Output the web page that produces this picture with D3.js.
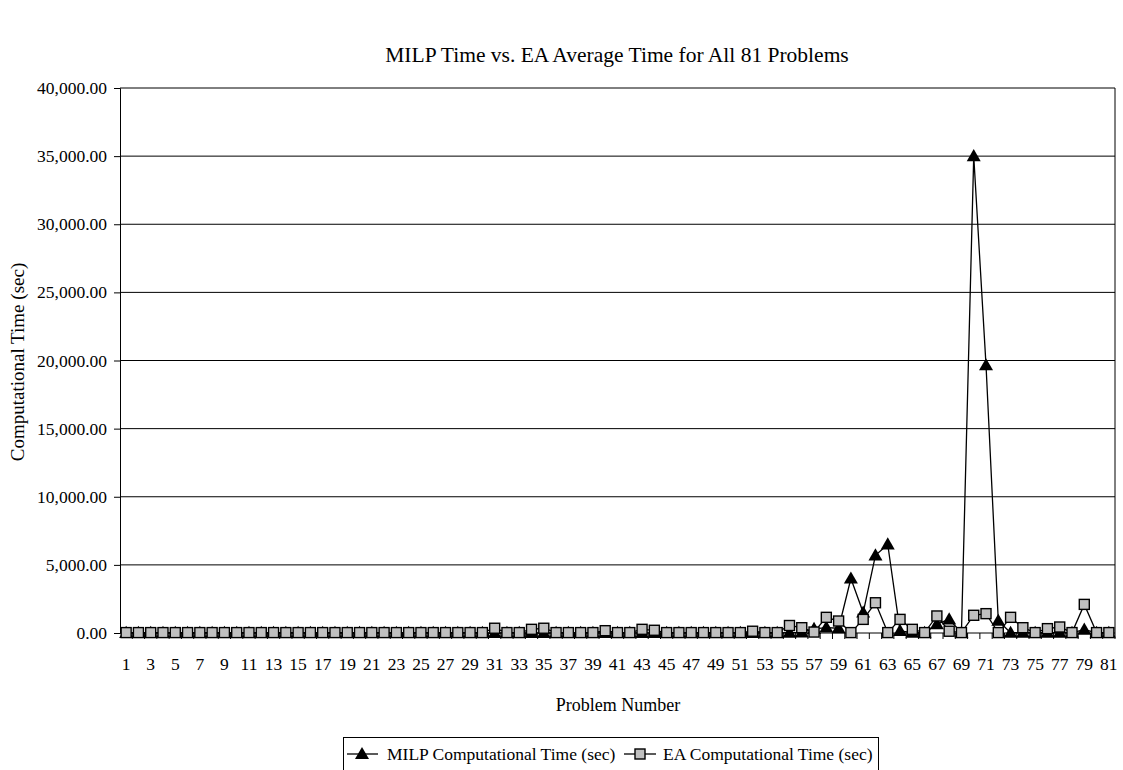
<!DOCTYPE html>
<html lang="en">
<head>
  <meta charset="UTF-8">
  <title>MILP Time vs. EA Average Time</title>
  <script src="https://d3js.org/d3.v7.min.js"></script>
  <style>
    body {
      margin: 0;
      padding: 0;
      background: #fff;
    }

    svg text {
      font-family: 'Liberation Serif', 'Times New Roman', serif;
      fill: #000;
    }
  </style>
</head>
<body>
  <div id="chart"></div>

  <script>
    // Problem numbers 1..81
    const problems = d3.range(1, 82);

    // MILP computational time (sec)
    const milpTime = [
      5, 5, 5, 5, 5, 5, 5, 5, 5, 5,
      5, 5, 5, 5, 5, 5, 5, 5, 5, 5,
      5, 5, 5, 5, 5, 5, 5, 5, 5, 5,
      10, 5, 5, 10, 10, 5, 5, 5, 5, 10,
      5, 5, 10, 10, 5, 5, 5, 5, 5, 5,
      5, 10, 5, 5, 30, 40, 300, 400, 350, 4000,
      1500, 5700, 6500, 150, 20, 20, 650, 1000, 20, 35000,
      19650, 900, 20, 20, 20, 20, 20, 20, 250, 20,
      20
    ];

    // EA computational time (sec)
    const eaTime = [
      30, 30, 30, 30, 30, 30, 30, 30, 30, 30,
      30, 30, 30, 30, 30, 30, 30, 30, 30, 30,
      30, 30, 30, 30, 30, 30, 30, 30, 30, 30,
      350, 30, 30, 270, 350, 30, 30, 30, 30, 170,
      30, 30, 270, 200, 30, 30, 30, 30, 30, 30,
      30, 130, 30, 30, 550, 390, 70, 1150, 880, 30,
      1000, 2220, 30, 1000, 270, 30, 1250, 130, 30, 1300,
      1420, 30, 1150, 390, 30, 320, 440, 30, 2100, 30,
      30
    ];

    const yTicks = [0, 5000, 10000, 15000, 20000, 25000, 30000, 35000, 40000];
    const xLabels = problems.filter(d => d % 2 === 1);

    const width = 1123;
    const height = 770;
    const margin = { top: 88, right: 8, bottom: 137, left: 120 };

    const svg = d3.select('#chart')
      .append('svg')
      .attr('width', width)
      .attr('height', height);

    const x = d3.scaleBand()
      .domain(problems)
      .range([margin.left, width - margin.right]);

    const y = d3.scaleLinear()
      .domain([0, 40000])
      .range([height - margin.bottom, margin.top]);

    // gridlines
    svg.append('g')
      .selectAll('line')
      .data(yTicks.filter(d => d > 0))
      .join('line')
      .attr('x1', margin.left)
      .attr('x2', width - margin.right)
      .attr('y1', d => y(d))
      .attr('y2', d => y(d))
      .attr('stroke', '#000')
      .attr('stroke-width', 1);

    // right border
    svg.append('line')
      .attr('x1', width - margin.right)
      .attr('x2', width - margin.right)
      .attr('y1', margin.top)
      .attr('y2', y(0))
      .attr('stroke', '#000');

    // y axis
    const yAxis = svg.append('g')
      .attr('transform', `translate(${margin.left},0)`)
      .call(d3.axisLeft(y).tickValues(yTicks).tickFormat(d3.format(',.2f')).tickSize(6).tickPadding(7));
    yAxis.select('.domain').attr('stroke', '#000');
    yAxis.selectAll('text')
      .attr('font-size', 17.5)
      .style('font-family', "'Liberation Serif', serif");

    // x axis: ticks between categories, labels on odd problems
    const xAxisY = y(0);
    svg.append('line')
      .attr('x1', margin.left)
      .attr('x2', width - margin.right)
      .attr('y1', xAxisY)
      .attr('y2', xAxisY)
      .attr('stroke', '#000');

    svg.append('g')
      .selectAll('line')
      .data(problems)
      .join('line')
      .attr('x1', d => x(d) + x.bandwidth())
      .attr('x2', d => x(d) + x.bandwidth())
      .attr('y1', xAxisY)
      .attr('y2', xAxisY + 6)
      .attr('stroke', '#000');

    svg.append('g')
      .selectAll('text')
      .data(xLabels)
      .join('text')
      .attr('x', d => x(d) + x.bandwidth() / 2)
      .attr('y', xAxisY + 37)
      .attr('text-anchor', 'middle')
      .attr('font-size', 17.5)
      .text(d => d);

    // series lines
    const line = d3.line()
      .x((d, i) => x(problems[i]) + x.bandwidth() / 2)
      .y(d => y(d));

    svg.append('path')
      .datum(milpTime)
      .attr('fill', 'none')
      .attr('stroke', '#000')
      .attr('stroke-width', 1.3)
      .attr('d', line);

    svg.append('g')
      .selectAll('path')
      .data(milpTime)
      .join('path')
      .attr('d', d3.symbol().type(d3.symbolTriangle).size(85))
      .attr('transform', (d, i) => `translate(${x(problems[i]) + x.bandwidth() / 2},${y(d) + 1})`)
      .attr('fill', '#000');

    svg.append('path')
      .datum(eaTime)
      .attr('fill', 'none')
      .attr('stroke', '#000')
      .attr('stroke-width', 1.3)
      .attr('d', line);

    svg.append('g')
      .selectAll('rect')
      .data(eaTime)
      .join('rect')
      .attr('x', (d, i) => x(problems[i]) + x.bandwidth() / 2 - 5)
      .attr('y', d => y(d) - 5)
      .attr('width', 10)
      .attr('height', 10)
      .attr('fill', '#c0c0c0')
      .attr('stroke', '#000')
      .attr('stroke-width', 1.4);

    // titles
    svg.append('text')
      .attr('x', 617)
      .attr('y', 62)
      .attr('text-anchor', 'middle')
      .attr('font-size', 21.5)
      .text('MILP Time vs. EA Average Time for All 81 Problems');

    svg.append('text')
      .attr('x', 618)
      .attr('y', 711)
      .attr('text-anchor', 'middle')
      .attr('font-size', 18)
      .text('Problem Number');

    svg.append('text')
      .attr('transform', 'translate(24,362) rotate(-90)')
      .attr('text-anchor', 'middle')
      .attr('font-size', 19)
      .text('Computational Time (sec)');

    // legend
    const legend = svg.append('g');
    legend.append('rect')
      .attr('x', 343.5)
      .attr('y', 737.5)
      .attr('width', 535)
      .attr('height', 60)
      .attr('fill', '#fff')
      .attr('stroke', '#000');

    const ly = 754;
    legend.append('line')
      .attr('x1', 347).attr('x2', 378).attr('y1', ly).attr('y2', ly)
      .attr('stroke', '#000').attr('stroke-width', 1.3);
    legend.append('path')
      .attr('d', d3.symbol().type(d3.symbolTriangle).size(85))
      .attr('transform', `translate(362,${ly + 1})`)
      .attr('fill', '#000');
    legend.append('text')
      .attr('x', 387)
      .attr('y', ly + 6)
      .attr('font-size', 17.5)
      .text('MILP Computational Time (sec)');

    legend.append('line')
      .attr('x1', 624).attr('x2', 656).attr('y1', ly).attr('y2', ly)
      .attr('stroke', '#000').attr('stroke-width', 1.3);
    legend.append('rect')
      .attr('x', 635).attr('y', ly - 5).attr('width', 10).attr('height', 10)
      .attr('fill', '#c0c0c0').attr('stroke', '#000').attr('stroke-width', 1.4);
    legend.append('text')
      .attr('x', 663)
      .attr('y', ly + 6)
      .attr('font-size', 17.5)
      .text('EA Computational Time (sec)');
  </script>
</body>
</html>
